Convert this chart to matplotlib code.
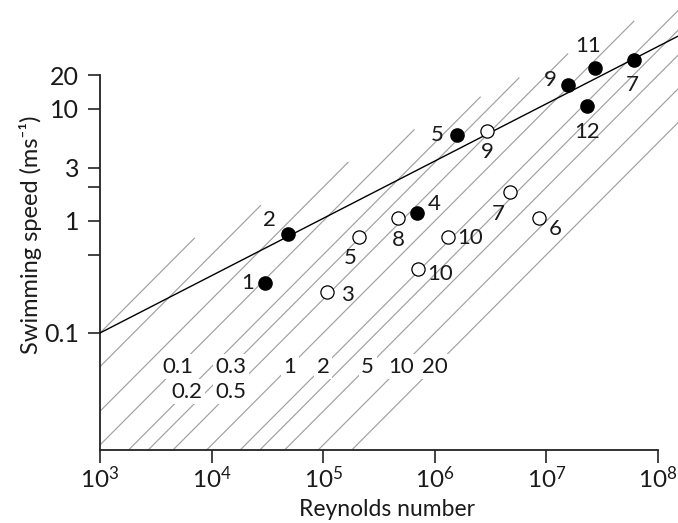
import numpy as np
import matplotlib
matplotlib.use("Agg")
import matplotlib.pyplot as plt
from matplotlib.ticker import NullLocator

plt.rcParams['font.family'] = ['Lato', 'DejaVu Sans']
plt.rcParams['mathtext.fontset'] = 'custom'
plt.rcParams['mathtext.rm'] = 'Lato'

# filled circles (Reynolds number, speed m/s)
filled_re = [3.0e4, 4.8e4, 6.9e5, 1.57e6, 1.57e7, 2.7e7, 6.1e7, 2.3e7]
filled_u = [0.28, 0.77, 1.19, 5.8, 16.4, 23.1, 27.4, 10.6]
filled_labels = ['1', '2', '4', '5', '9', '11', '7', '12']

# open circles
open_re = [1.08e5, 2.1e5, 4.7e5, 7.0e5, 1.32e6, 2.95e6, 4.7e6, 8.5e6]
open_u = [0.23, 0.72, 1.06, 0.37, 0.72, 6.3, 1.83, 1.07]
open_labels = ['3', '5', '8', '10', '10', '9', '7', '6']

# fitted line through the filled points
fit_re = [1e3, 1.5e8]
fit_u = [0.1, 44.5]

# body length lines (m), U = Re * nu / L
lengths = [0.01, 0.02, 0.05, 0.1, 0.2, 0.3, 0.5, 1, 2, 3, 5, 10, 20]
length_labels = ['0.1', '0.2', '0.3', '0.5', '1', '2', '5', '10', '20']
nu = 1e-6

# label placement (offsets in pixels, not data)
filled_offsets = [(-17, 0), (-18, 14), (17, 9), (-19, 0), (-18, 5), (-6, 22), (-2, -25), (0, -26)]
open_offsets = [(21, -3), (-9, -21), (0, -22), (23, -5), (22, -1), (0, -21), (-12, -22), (17, -11)]
length_label_u = [0.05, 0.03, 0.05, 0.03, 0.05, 0.05, 0.05, 0.05, 0.05]

fig = plt.figure(figsize=(6.78, 5.23), dpi=100)
ax = fig.add_axes([100 / 678, 73 / 523, 578 / 678, 450 / 523])
ax.set_xscale('log')
ax.set_yscale('log')
xmin, xmax = 1e3, 10 ** 8.179
ymin, ymax = 10 ** -2.045, 10 ** 1.973
ax.set_xlim(xmin, xmax)
ax.set_ylim(ymin, ymax)

# upper end of the grey lines follows a band above the fit line
top_a, top_b = 0.269, 0.492
for L in lengths:
    re_lo = max(xmin, ymin * L / nu)
    re_hi = (top_a * L / nu / 1e3 ** top_b) ** (1 / (1 - top_b))
    re = np.array([re_lo, re_hi])
    ax.plot(re, re * nu / L, color='#a0a0a0', lw=0.85, zorder=1)

for lab, u in zip(length_labels, length_label_u):
    L = float(lab)
    ax.text(u * L / nu, u, lab, ha='center', va='center', fontsize=16, zorder=2,
            color='#1a1a1a', bbox=dict(facecolor='white', edgecolor='none', pad=2.0))

ax.plot(fit_re, fit_u, color='black', lw=1.0, zorder=3)

ax.plot(filled_re, filled_u, 'o', ms=9.5, color='black', zorder=4)
ax.plot(open_re, open_u, 'o', ms=9.5, mfc='white', mec='black', mew=0.9, zorder=4)

for x, y, lab, off in zip(filled_re, filled_u, filled_labels, filled_offsets):
    ax.annotate(lab, (x, y), xytext=off, textcoords='offset pixels', color='#1a1a1a',
                ha='center', va='center', fontsize=16, zorder=5)
for x, y, lab, off in zip(open_re, open_u, open_labels, open_offsets):
    ax.annotate(lab, (x, y), xytext=off, textcoords='offset pixels', color='#1a1a1a',
                ha='center', va='center', fontsize=16, zorder=5)

for side in ['top', 'right']:
    ax.spines[side].set_visible(False)
for side in ['left', 'bottom']:
    ax.spines[side].set_linewidth(1.3)
    ax.spines[side].set_color('#222222')
ax.spines['left'].set_bounds(ymin, 20)
ax.spines['bottom'].set_bounds(1e3, 1e8)

ax.set_xticks([1e3, 1e4, 1e5, 1e6, 1e7, 1e8])
ax.set_xticklabels([r'$\mathregular{10^{%d}}$' % p for p in range(3, 9)])
ax.set_yticks([0.1, 0.5, 1, 2, 3, 10, 20])
ax.set_yticklabels(['0.1', '', '1', '', '3', '10', '20'])
ax.xaxis.set_minor_locator(NullLocator())
ax.yaxis.set_minor_locator(NullLocator())
ax.tick_params(axis='both', direction='out', length=9, width=1.2, color='#222222',
               labelcolor='#1a1a1a')
ax.tick_params(axis='x', pad=2, labelsize=17.5)
ax.tick_params(axis='y', pad=6, labelsize=18)

ax.set_xlabel('Reynolds number', fontsize=16.5, color='#1a1a1a')
ax.xaxis.set_label_coords(0.497, -0.11)
ax.set_ylabel('Swimming speed (ms⁻¹)', fontsize=17, color='#1a1a1a')
ax.yaxis.set_label_coords(-0.100, 0.478)

fig.savefig('out.png', dpi=100)
